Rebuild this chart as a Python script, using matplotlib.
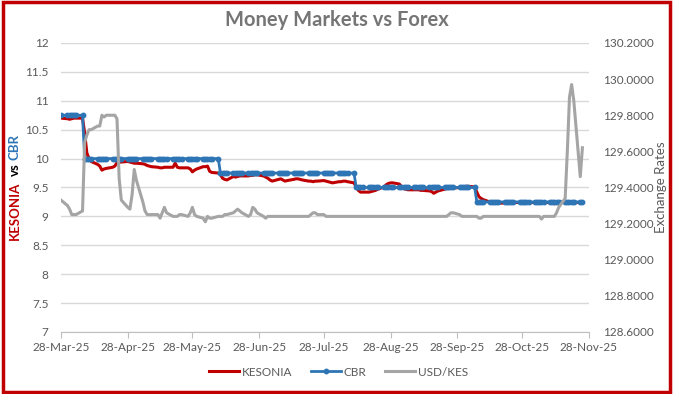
import matplotlib
matplotlib.use('Agg')
import matplotlib.pyplot as plt
import matplotlib.dates as mdates
from matplotlib.patches import Rectangle
from matplotlib.lines import Line2D
import pandas as pd

plt.rcParams['font.family'] = ['Lato', 'DejaVu Sans']

# business days, 28-Mar-25 .. 25-Nov-25
dates = pd.bdate_range('2025-03-28', '2025-11-25')

kesonia = [
    10.70,
    10.69, 10.68, 10.69, 10.70, 10.70,   # wk of 31-Mar
    10.70, 10.44, 10.10, 10.00, 9.95,    # 7-Apr
    9.90, 9.87, 9.80, 9.82, 9.83,
    9.85, 9.87, 9.93, 9.94, 9.94,
    9.95, 9.94, 9.93, 9.92, 9.92,        # 28-Apr
    9.91, 9.90, 9.88, 9.87, 9.86,
    9.85, 9.84, 9.84, 9.85, 9.85,
    9.85, 9.92, 9.85, 9.84, 9.84,
    9.84, 9.82, 9.77, 9.80, 9.82,        # 26-May
    9.86, 9.86, 9.87, 9.78, 9.76,
    9.75, 9.72, 9.66, 9.64, 9.63,        # 9-Jun
    9.69, 9.68, 9.69, 9.70, 9.70,
    9.70, 9.71, 9.71, 9.72, 9.72,
    9.70, 9.68, 9.66, 9.63, 9.61,        # 30-Jun
    9.64, 9.65, 9.63, 9.61, 9.62,
    9.64, 9.65, 9.65, 9.64, 9.63,
    9.61, 9.61, 9.60, 9.61, 9.61,
    9.62, 9.61, 9.60, 9.59, 9.58,        # 28-Jul
    9.60, 9.60, 9.61, 9.61, 9.60,
    9.58, 9.51, 9.45, 9.42, 9.42,        # 11-Aug
    9.42, 9.43, 9.44, 9.45, 9.47,
    9.51, 9.55, 9.57, 9.58, 9.58,
    9.56, 9.52, 9.48, 9.47, 9.46,        # 1-Sep
    9.46, 9.46, 9.46, 9.45, 9.45,
    9.44, 9.43, 9.40, 9.42, 9.44,
    9.47, 9.48, 9.48, 9.49, 9.49,
    9.50, 9.51, 9.51, 9.52, 9.52,        # 29-Sep
    9.51, 9.42, 9.34, 9.31, 9.29,        # 6-Oct
    9.25, 9.24, 9.23, 9.23, 9.23,
    9.23, 9.24, 9.24, 9.24, 9.24,
    9.24, 9.24, 9.24, 9.24, 9.24,
    9.24, 9.24, 9.24, 9.24, 9.24,        # 3-Nov
    9.24, 9.23, 9.22, 9.22, 9.24,
    9.24, 9.24, 9.24, 9.24, 9.24,
    9.24, 9.24,
]

cbr = [
    10.75,
    10.75, 10.75, 10.75, 10.75, 10.75,
    10.75, 10.00, 10.00, 10.00, 10.00,
    10.00, 10.00, 10.00, 10.00, 10.00,
    10.00, 10.00, 10.00, 10.00, 10.00,
    10.00, 10.00, 10.00, 10.00, 10.00,
    10.00, 10.00, 10.00, 10.00, 10.00,
    10.00, 10.00, 10.00, 10.00, 10.00,
    10.00, 10.00, 10.00, 10.00, 10.00,
    10.00, 10.00, 10.00, 10.00, 10.00,
    10.00, 10.00, 10.00, 10.00, 10.00,
    10.00, 9.75, 9.75, 9.75, 9.75,
    9.75, 9.75, 9.75, 9.75, 9.75,
    9.75, 9.75, 9.75, 9.75, 9.75,
    9.75, 9.75, 9.75, 9.75, 9.75,
    9.75, 9.75, 9.75, 9.75, 9.75,
    9.75, 9.75, 9.75, 9.75, 9.75,
    9.75, 9.75, 9.75, 9.75, 9.75,
    9.75, 9.75, 9.75, 9.75, 9.75,
    9.75, 9.75, 9.75, 9.75, 9.75,
    9.75, 9.50, 9.50, 9.50, 9.50,
    9.50, 9.50, 9.50, 9.50, 9.50,
    9.50, 9.50, 9.50, 9.50, 9.50,
    9.50, 9.50, 9.50, 9.50, 9.50,
    9.50, 9.50, 9.50, 9.50, 9.50,
    9.50, 9.50, 9.50, 9.50, 9.50,
    9.50, 9.50, 9.50, 9.50, 9.50,
    9.50, 9.50, 9.50, 9.50, 9.50,
    9.50, 9.25, 9.25, 9.25, 9.25,
    9.25, 9.25, 9.25, 9.25, 9.25,
    9.25, 9.25, 9.25, 9.25, 9.25,
    9.25, 9.25, 9.25, 9.25, 9.25,
    9.25, 9.25, 9.25, 9.25, 9.25,
    9.25, 9.25, 9.25, 9.25, 9.25,
    9.25, 9.25, 9.25, 9.25, 9.25,
    9.25, 9.25,
]

usd_kes = [
    129.33,
    129.30, 129.28, 129.25, 129.25, 129.25,
    129.27, 129.65, 129.69, 129.72, 129.72,
    129.74, 129.74, 129.80, 129.79, 129.80,
    129.80, 129.80, 129.78, 129.45, 129.33,
    129.29, 129.28, 129.36, 129.50, 129.44,
    129.32, 129.27, 129.25, 129.25, 129.25,
    129.25, 129.23, 129.26, 129.29, 129.26,
    129.24, 129.24, 129.24, 129.25, 129.25,
    129.24, 129.26, 129.29, 129.25, 129.24,
    129.23, 129.21, 129.24, 129.23, 129.23,
    129.24, 129.24, 129.24, 129.25, 129.25,
    129.26, 129.27, 129.28, 129.27, 129.26,
    129.24, 129.25, 129.29, 129.28, 129.26,
    129.24, 129.23, 129.24, 129.24, 129.24,
    129.24, 129.24, 129.24, 129.24, 129.24,
    129.24, 129.24, 129.24, 129.24, 129.24,
    129.24, 129.25, 129.26, 129.26, 129.25,
    129.25, 129.24, 129.24, 129.24, 129.24,
    129.24, 129.24, 129.24, 129.24, 129.24,
    129.24, 129.24, 129.24, 129.24, 129.24,
    129.24, 129.24, 129.24, 129.24, 129.24,
    129.24, 129.24, 129.24, 129.24, 129.24,
    129.24, 129.24, 129.24, 129.24, 129.24,
    129.24, 129.24, 129.24, 129.24, 129.24,
    129.24, 129.24, 129.24, 129.24, 129.24,
    129.24, 129.24, 129.25, 129.26, 129.26,
    129.25, 129.24, 129.24, 129.24, 129.24,
    129.24, 129.24, 129.23, 129.23, 129.24,
    129.24, 129.24, 129.24, 129.24, 129.24,
    129.24, 129.24, 129.24, 129.24, 129.24,
    129.24, 129.24, 129.24, 129.24, 129.24,
    129.24, 129.24, 129.24, 129.225, 129.24,
    129.24, 129.24, 129.24, 129.26, 129.29,
    129.34, 129.60, 129.90, 129.97, 129.88,
    129.46, 129.62,
]

left_ticks = [7, 7.5, 8, 8.5, 9, 9.5, 10, 10.5, 11, 11.5, 12]
right_ticks = [128.6, 128.8, 129.0, 129.2, 129.4, 129.6, 129.8, 130.0, 130.2]
x_ticks = ['2025-03-28', '2025-04-28', '2025-05-28', '2025-06-28', '2025-07-28',
           '2025-08-28', '2025-09-28', '2025-10-28', '2025-11-28']

red = '#C00000'
blue = '#2E75B6'
grey = '#A5A5A5'
txt = '#595959'

fig = plt.figure(figsize=(6.73, 3.94), dpi=100)
ax = fig.add_axes([0.0906, 0.1574, 0.7844, 0.7335])
ax2 = ax.twinx()

ax.plot(dates, kesonia, color=red, lw=2.2, zorder=3)
ax.plot(dates, cbr, color=blue, lw=2.0, marker='o', ms=3.2, zorder=4)
ax2.plot(dates, usd_kes, color=grey, lw=2.2)

ax.set_ylim(7, 12)
ax.set_yticks(left_ticks)
ax.set_yticklabels(['%g' % v for v in left_ticks])
ax2.set_ylim(128.6, 130.2)
ax2.set_yticks(right_ticks)
ax2.set_yticklabels(['%.4f' % v for v in right_ticks])

xt = pd.to_datetime(x_ticks)
ax.set_xlim(xt[0], xt[-1])
ax.set_xticks(xt)
ax.xaxis.set_major_formatter(mdates.DateFormatter('%d-%b-%y'))

ax.grid(axis='y', color='#D9D9D9', lw=1)
ax.set_axisbelow(True)
for a in (ax, ax2):
    for s in ['top', 'left', 'right', 'bottom']:
        a.spines[s].set_visible(False)
ax.spines['bottom'].set_visible(True)
ax.spines['bottom'].set_color('#BFBFBF')
ax.tick_params(axis='y', length=0, pad=9, labelsize=8.5, labelcolor=txt)
ax2.tick_params(axis='y', length=0, pad=10, labelsize=8.5, labelcolor=txt)
ax.tick_params(axis='x', length=4, color='#BFBFBF', pad=3, labelsize=8.5, labelcolor=txt)

ax2.set_ylabel('Exchange Rates', color=txt, fontsize=9.5, labelpad=1)

# left axis title in three colours
fig.text(0.022, 1 - 211 / 394, 'KESONIA', rotation=90, color=red, fontsize=9.5,
         fontweight='bold', ha='center', va='center')
fig.text(0.022, 1 - 170 / 394, 'vs', rotation=90, color='black', fontsize=9.5,
         fontweight='bold', ha='center', va='center')
fig.text(0.022, 1 - 147 / 394, 'CBR', rotation=90, color=blue, fontsize=9.5,
         fontweight='bold', ha='center', va='center')

fig.text(0.5, 1 - 20 / 394, 'Money Markets vs Forex', color='#757575', fontsize=14.5,
         fontweight='bold', ha='center', va='center')

handles = [Line2D([], [], color=red, lw=2.2),
           Line2D([], [], color=blue, lw=2.0, marker='o', ms=3.2),
           Line2D([], [], color=grey, lw=2.2)]
fig.legend(handles, ['KESONIA', 'CBR', 'USD/KES'], loc='center', ncol=3,
           bbox_to_anchor=(0.503, 1 - 372 / 394), frameon=False, fontsize=8.5,
           labelcolor=txt, handlelength=2.5, columnspacing=1.6, handletextpad=0.25)

fig.patches.append(Rectangle((0.004, 0.006), 0.992, 0.988, transform=fig.transFigure,
                             fill=False, ec=red, lw=2.5))

fig.savefig('out.png', dpi=100)
